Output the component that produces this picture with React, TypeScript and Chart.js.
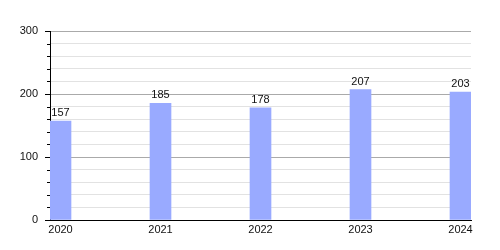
import React, { useEffect, useRef } from "react";
import { Chart, registerables } from "chart.js";

Chart.register(...registerables);

const years = [2020, 2021, 2022, 2023, 2024];
const values = [157, 185, 178, 207, 203];
const yMajorTicks = [0, 100, 200, 300];

const FONT = "Liberation Sans, Arial, sans-serif";
const BAR_SHIFT = 0.105;

const tickMarksPlugin = {
  id: "tickMarks",
  afterDraw(chart: any) {
    const y = chart.scales.y;
    const ctx = chart.ctx;
    ctx.save();
    ctx.strokeStyle = "#000";
    ctx.lineWidth = 1;
    for (let v = y.min; v <= y.max; v += 20) {
      const py = Math.round(y.getPixelForValue(v)) + 0.5;
      const len = yMajorTicks.includes(v) ? 5 : 3;
      ctx.beginPath();
      ctx.moveTo(y.right - len, py);
      ctx.lineTo(y.right, py);
      ctx.stroke();
    }
    ctx.restore();
  },
};

const valueLabelsPlugin = {
  id: "valueLabels",
  afterDatasetsDraw(chart: any) {
    const ctx = chart.ctx;
    const meta = chart.getDatasetMeta(0);
    ctx.save();
    ctx.fillStyle = "#111";
    ctx.font = `11px ${FONT}`;
    ctx.textAlign = "center";
    ctx.textBaseline = "alphabetic";
    meta.data.forEach((el: any, i: number) => {
      ctx.fillText(String(values[i]), el.x, el.y - 5);
    });
    ctx.restore();
  },
};

export default function App() {
  const ref = useRef<HTMLCanvasElement>(null);
  useEffect(() => {
    if (!ref.current) return;
    const chart = new Chart(ref.current, {
      type: "bar",
      data: {
        datasets: [
          {
            data: years.map((yr, i) => ({ x: yr + BAR_SHIFT, y: values[i] })),
            backgroundColor: "#99aaff",
            barThickness: 21,
          },
        ],
      },
      options: {
        animation: false,
        responsive: false,
        maintainAspectRatio: false,
        layout: { padding: { left: 0, top: 31, right: 29, bottom: 0 } },
        plugins: { legend: { display: false }, tooltip: { enabled: false } },
        scales: {
          x: {
            type: "linear",
            offset: false,
            min: years[0],
            max: years[years.length - 1] + 0.21,
            afterBuildTicks: (scale: any) => {
              scale.ticks = years.map((yr) => ({ value: yr + BAR_SHIFT }));
            },
            afterFit: (scale: any) => {
              scale.height = 30;
            },
            grid: { display: false, drawTicks: false, offset: false },
            border: { display: true, color: "#000", width: 1 },
            ticks: {
              autoSkip: false,
              maxRotation: 0,
              padding: 3,
              color: "#111",
              font: { family: FONT, size: 11 },
              callback: (_v: any, i: number) => String(years[i]),
            },
          },
          y: {
            type: "linear",
            min: 0,
            max: 300,
            afterFit: (scale: any) => {
              scale.width = 50;
            },
            grid: {
              drawTicks: false,
              color: (c: any) =>
                yMajorTicks.includes(c.tick?.value) ? "#aaaaaa" : "#e2e2e2",
            },
            border: { display: true, color: "#000", width: 1 },
            ticks: {
              stepSize: 20,
              autoSkip: false,
              padding: 12,
              color: "#111",
              font: { family: FONT, size: 11 },
              callback: (v: any) => (yMajorTicks.includes(v) ? String(v) : ""),
            },
          },
        },
      },
      plugins: [tickMarksPlugin, valueLabelsPlugin],
    });
    return () => chart.destroy();
  }, []);
  return (
    <div style={{ position: "fixed", left: 0, top: 0, width: 500, height: 250, background: "#fff" }}>
      <canvas ref={ref} width={500} height={250} style={{ width: 500, height: 250 }} />
    </div>
  );
}
